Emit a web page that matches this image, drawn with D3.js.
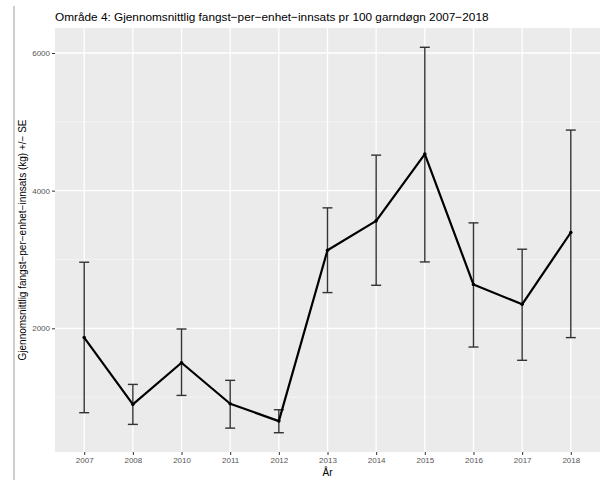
<!DOCTYPE html>
<html>
<head>
<meta charset="utf-8">
<script src="https://cdn.jsdelivr.net/npm/d3@7"></script>
<style>
  body { margin: 0; background: #fff; }
  text { font-family: "Liberation Sans", Arial, sans-serif; }
</style>
</head>
<body>
<svg id="chart" width="604" height="480"></svg>
<script>
// data
const years = ["2007", "2008", "2010", "2011", "2012", "2013", "2014", "2015", "2016", "2017", "2018"];
const mean  = [1865, 895, 1500, 904, 652, 3135, 3561, 4531, 2636, 2349, 3392];
const upper = [2960, 1185, 1990, 1244, 817, 3750, 4516, 6083, 3532, 3149, 4880];
const lower = [774, 604, 1025, 550, 483, 2519, 2625, 2964, 1728, 1535, 1865];
const yTicks = [2000, 4000, 6000];
const yMinor = [1000, 3000, 5000];

const svg = d3.select("#chart");
const panel = { left: 55, right: 600, top: 28, bottom: 452 };

// scan edge line at the left
svg.append("line")
    .attr("x1", 14).attr("x2", 14).attr("y1", 6).attr("y2", 480)
    .attr("stroke", "#bdbdbd").attr("stroke-width", 1.5);

// x: discrete with ggplot style 0.6 padding
const x = d3.scalePoint()
    .domain(years)
    .range([panel.left, panel.right])
    .padding(0.6);

// y: continuous, 5% expansion
const lo = d3.min(lower), hi = d3.max(upper);
const pad = (hi - lo) * 0.05;
const y = d3.scaleLinear()
    .domain([lo - pad, hi + pad])
    .range([panel.bottom, panel.top]);

svg.append("rect")
    .attr("x", panel.left).attr("y", panel.top)
    .attr("width", panel.right - panel.left)
    .attr("height", panel.bottom - panel.top)
    .attr("fill", "#ebebeb");

const grid = svg.append("g");
grid.selectAll(".minor").data(yMinor.filter(v => y(v) < panel.bottom && y(v) > panel.top))
    .join("line")
    .attr("x1", panel.left).attr("x2", panel.right)
    .attr("y1", d => y(d)).attr("y2", d => y(d))
    .attr("stroke", "#f7f7f7").attr("stroke-width", 0.7);
grid.selectAll(".major").data(yTicks)
    .join("line")
    .attr("x1", panel.left).attr("x2", panel.right)
    .attr("y1", d => y(d)).attr("y2", d => y(d))
    .attr("stroke", "#fff").attr("stroke-width", 1.3);
grid.selectAll(".vmajor").data(years)
    .join("line")
    .attr("x1", d => x(d)).attr("x2", d => x(d))
    .attr("y1", panel.top).attr("y2", panel.bottom)
    .attr("stroke", "#fff").attr("stroke-width", 1.3);

// axes
const xAxis = svg.append("g")
    .attr("transform", `translate(0,${panel.bottom})`)
    .call(d3.axisBottom(x).tickSize(3).tickPadding(2));
const yAxis = svg.append("g")
    .attr("transform", `translate(${panel.left},0)`)
    .call(d3.axisLeft(y).tickValues(yTicks).tickFormat(d3.format("d")).tickSize(3).tickPadding(2));
[xAxis, yAxis].forEach(a => {
  a.select(".domain").remove();
  a.selectAll(".tick line").attr("stroke", "#333");
  a.selectAll(".tick text").attr("fill", "#555").style("font-size", "8px");
});

// error bars
const eb = svg.append("g").attr("stroke", "#333").attr("stroke-width", 1.4);
years.forEach((yr, i) => {
  const cx = x(yr);
  eb.append("line").attr("x1", cx).attr("x2", cx).attr("y1", y(lower[i])).attr("y2", y(upper[i]));
  eb.append("line").attr("x1", cx - 5).attr("x2", cx + 5).attr("y1", y(lower[i])).attr("y2", y(lower[i]));
  eb.append("line").attr("x1", cx - 5).attr("x2", cx + 5).attr("y1", y(upper[i])).attr("y2", y(upper[i]));
});

// mean line + points
const line = d3.line().x((d, i) => x(years[i])).y(d => y(d));
svg.append("path")
    .datum(mean)
    .attr("d", line)
    .attr("fill", "none")
    .attr("stroke", "#000")
    .attr("stroke-width", 2.2)
    .attr("stroke-linejoin", "round");
svg.append("g").selectAll("circle").data(mean)
    .join("circle")
    .attr("cx", (d, i) => x(years[i]))
    .attr("cy", d => y(d))
    .attr("r", 1.8)
    .attr("fill", "#000");

// titles
svg.append("text")
    .attr("x", panel.left).attr("y", 21)
    .style("font-size", "11.8px").attr("fill", "#000")
    .text("Område 4: Gjennomsnittlig fangst\u2212per\u2212enhet\u2212innsats pr 100 garndøgn 2007\u22122018");

svg.append("text")
    .attr("x", (panel.left + panel.right) / 2).attr("y", 476)
    .attr("text-anchor", "middle")
    .style("font-size", "10px").attr("fill", "#000")
    .text("År");

svg.append("text")
    .attr("transform", `translate(26,${(panel.top + panel.bottom) / 2}) rotate(-90)`)
    .attr("text-anchor", "middle")
    .style("font-size", "10px").attr("fill", "#000")
    .text("Gjennomsnittlig fangst\u2212per\u2212enhet\u2212innsats (kg) +/\u2212 SE");
</script>
</body>
</html>
